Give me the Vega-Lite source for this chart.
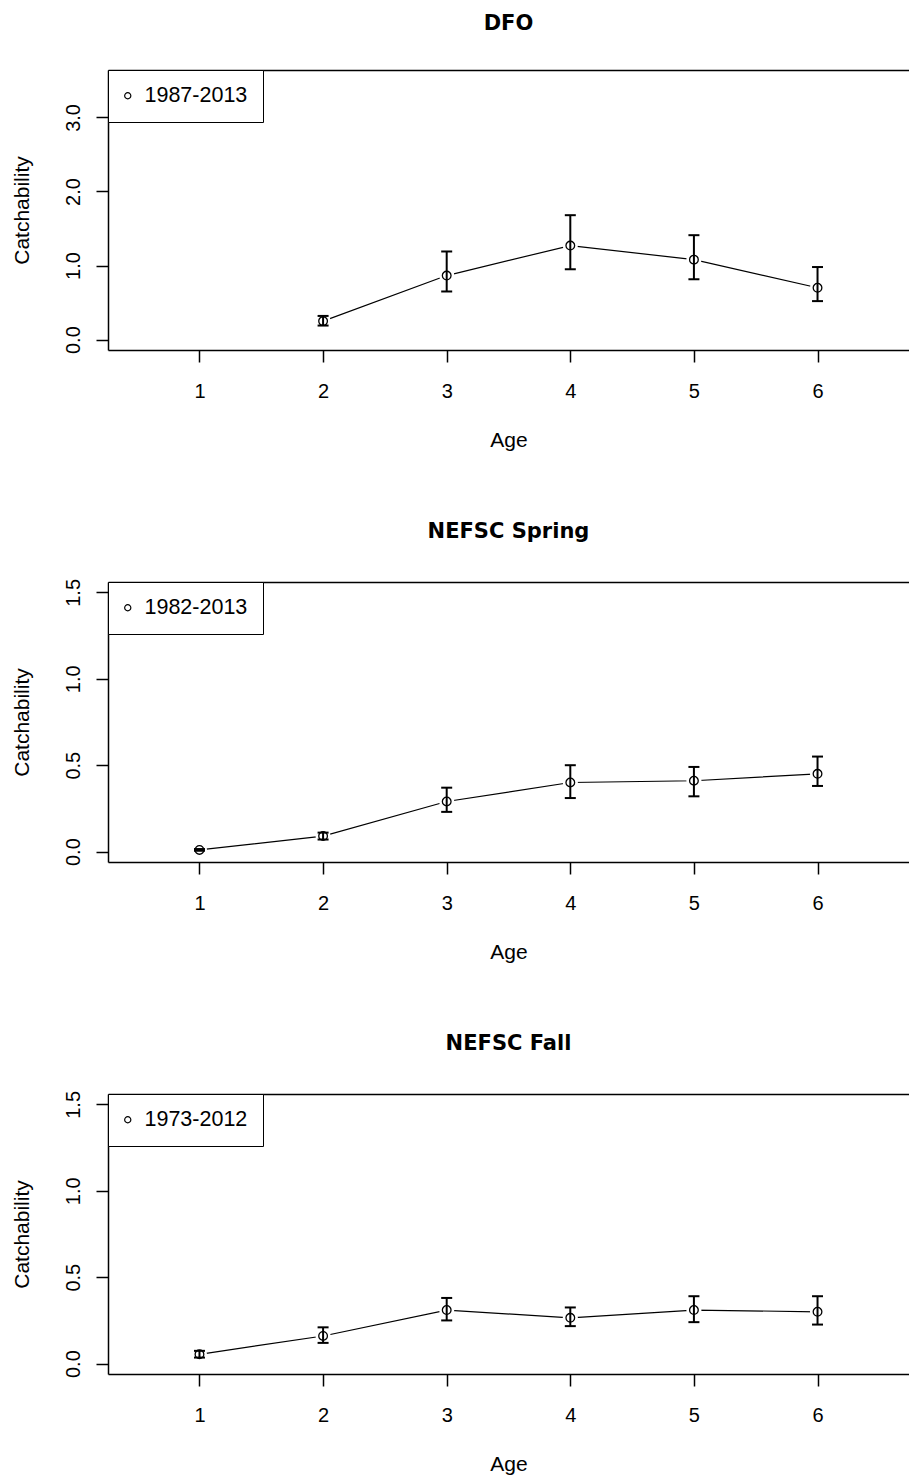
{
  "$schema": "https://vega.github.io/schema/vega-lite/v6.json",
  "padding": {"left": 10, "top": 12, "right": 0, "bottom": 4},
  "background": "white",
  "spacing": 232,
  "bounds": "flush",
  "resolve": {"scale": {"shape": "independent"}, "legend": {"shape": "independent"}},
  "datasets": {
    "q": [
      {"survey": "DFO", "period": "1987-2013", "age": 2, "q": 0.25, "lo": 0.19, "hi": 0.32},
      {"survey": "DFO", "period": "1987-2013", "age": 3, "q": 0.865, "lo": 0.65, "hi": 1.19},
      {"survey": "DFO", "period": "1987-2013", "age": 4, "q": 1.27, "lo": 0.95, "hi": 1.68},
      {"survey": "DFO", "period": "1987-2013", "age": 5, "q": 1.08, "lo": 0.815, "hi": 1.41},
      {"survey": "DFO", "period": "1987-2013", "age": 6, "q": 0.70, "lo": 0.52, "hi": 0.98},
      {"survey": "NEFSC Spring", "period": "1982-2013", "age": 1, "q": 0.01, "lo": 0.005, "hi": 0.015},
      {"survey": "NEFSC Spring", "period": "1982-2013", "age": 2, "q": 0.09, "lo": 0.07, "hi": 0.11},
      {"survey": "NEFSC Spring", "period": "1982-2013", "age": 3, "q": 0.29, "lo": 0.23, "hi": 0.37},
      {"survey": "NEFSC Spring", "period": "1982-2013", "age": 4, "q": 0.40, "lo": 0.31, "hi": 0.50},
      {"survey": "NEFSC Spring", "period": "1982-2013", "age": 5, "q": 0.41, "lo": 0.32, "hi": 0.49},
      {"survey": "NEFSC Spring", "period": "1982-2013", "age": 6, "q": 0.45, "lo": 0.38, "hi": 0.55},
      {"survey": "NEFSC Fall", "period": "1973-2012", "age": 1, "q": 0.054, "lo": 0.035, "hi": 0.074},
      {"survey": "NEFSC Fall", "period": "1973-2012", "age": 2, "q": 0.16, "lo": 0.12, "hi": 0.21},
      {"survey": "NEFSC Fall", "period": "1973-2012", "age": 3, "q": 0.31, "lo": 0.25, "hi": 0.38},
      {"survey": "NEFSC Fall", "period": "1973-2012", "age": 4, "q": 0.265, "lo": 0.217, "hi": 0.325},
      {"survey": "NEFSC Fall", "period": "1973-2012", "age": 5, "q": 0.31, "lo": 0.24, "hi": 0.39},
      {"survey": "NEFSC Fall", "period": "1973-2012", "age": 6, "q": 0.30, "lo": 0.226, "hi": 0.39}
    ]
  },
  "vconcat": [
    {
      "title": "DFO",
      "width": 801,
      "height": 280,
      "data": {"name": "q"},
      "transform": [{"filter": "datum.survey === 'DFO'"}],
      "resolve": {"axis": {"x": "independent"}},
      "layer": [
        {
          "mark": {"type": "line", "color": "black", "strokeWidth": 1.2},
          "encoding": {
            "x": {"field": "age", "type": "quantitative", "scale": {"domain": [0.26, 6.74], "nice": false, "zero": false}, "axis": {"orient": "top", "labels": false, "ticks": false, "title": null}},
            "y": {"field": "q", "type": "quantitative", "title": "Catchability", "scale": {"domain": [-0.14, 3.64], "nice": false, "zero": false}, "axis": {"values": [0, 0.5, 1, 1.5, 2, 2.5, 3, 3.5], "labelExpr": "datum.value % 1 === 0 ? format(datum.value, '.1f') : ''"}}
          }
        },
        {
          "mark": {"type": "point", "filled": true, "color": "white", "opacity": 1, "size": 230},
          "encoding": {
            "x": {"field": "age", "type": "quantitative", "title": "Age", "axis": {"orient": "bottom", "values": [1, 2, 3, 4, 5, 6], "format": "d"}},
            "y": {"field": "q", "type": "quantitative", "title": "Catchability"}
          }
        },
        {
          "mark": {"type": "rule", "color": "black", "strokeWidth": 2},
          "encoding": {
            "x": {"field": "age", "type": "quantitative", "axis": null},
            "y": {"field": "lo", "type": "quantitative", "title": "Catchability"},
            "y2": {"field": "hi"}
          }
        },
        {
          "mark": {"type": "tick", "orient": "horizontal", "color": "black", "size": 11, "thickness": 2, "opacity": 1},
          "encoding": {
            "x": {"field": "age", "type": "quantitative", "axis": null},
            "y": {"field": "lo", "type": "quantitative", "title": "Catchability"}
          }
        },
        {
          "mark": {"type": "tick", "orient": "horizontal", "color": "black", "size": 11, "thickness": 2, "opacity": 1},
          "encoding": {
            "x": {"field": "age", "type": "quantitative", "axis": null},
            "y": {"field": "hi", "type": "quantitative", "title": "Catchability"}
          }
        },
        {
          "mark": {"type": "point", "filled": false, "color": "black", "strokeWidth": 1.3, "size": 75, "opacity": 1},
          "encoding": {
            "x": {"field": "age", "type": "quantitative", "axis": null},
            "y": {"field": "q", "type": "quantitative", "title": "Catchability"},
            "shape": {"field": "period", "type": "nominal", "scale": {"range": ["circle"]}, "legend": {"title": null, "orient": "top-left", "offset": 0}}
          }
        }
      ]
    },
    {
      "title": "NEFSC Spring",
      "width": 801,
      "height": 280,
      "data": {"name": "q"},
      "transform": [{"filter": "datum.survey === 'NEFSC Spring'"}],
      "resolve": {"axis": {"x": "independent"}},
      "layer": [
        {
          "mark": {"type": "line", "color": "black", "strokeWidth": 1.2},
          "encoding": {
            "x": {"field": "age", "type": "quantitative", "scale": {"domain": [0.26, 6.74], "nice": false, "zero": false}, "axis": {"orient": "top", "labels": false, "ticks": false, "title": null}},
            "y": {"field": "q", "type": "quantitative", "title": "Catchability", "scale": {"domain": [-0.06, 1.56], "nice": false, "zero": false}, "axis": {"values": [0, 0.5, 1, 1.5], "format": ".1f"}}
          }
        },
        {
          "mark": {"type": "point", "filled": true, "color": "white", "opacity": 1, "size": 230},
          "encoding": {
            "x": {"field": "age", "type": "quantitative", "title": "Age", "axis": {"orient": "bottom", "values": [1, 2, 3, 4, 5, 6], "format": "d"}},
            "y": {"field": "q", "type": "quantitative", "title": "Catchability"}
          }
        },
        {
          "mark": {"type": "rule", "color": "black", "strokeWidth": 2},
          "encoding": {
            "x": {"field": "age", "type": "quantitative", "axis": null},
            "y": {"field": "lo", "type": "quantitative", "title": "Catchability"},
            "y2": {"field": "hi"}
          }
        },
        {
          "mark": {"type": "tick", "orient": "horizontal", "color": "black", "size": 11, "thickness": 2, "opacity": 1},
          "encoding": {
            "x": {"field": "age", "type": "quantitative", "axis": null},
            "y": {"field": "lo", "type": "quantitative", "title": "Catchability"}
          }
        },
        {
          "mark": {"type": "tick", "orient": "horizontal", "color": "black", "size": 11, "thickness": 2, "opacity": 1},
          "encoding": {
            "x": {"field": "age", "type": "quantitative", "axis": null},
            "y": {"field": "hi", "type": "quantitative", "title": "Catchability"}
          }
        },
        {
          "mark": {"type": "point", "filled": false, "color": "black", "strokeWidth": 1.3, "size": 75, "opacity": 1},
          "encoding": {
            "x": {"field": "age", "type": "quantitative", "axis": null},
            "y": {"field": "q", "type": "quantitative", "title": "Catchability"},
            "shape": {"field": "period", "type": "nominal", "scale": {"range": ["circle"]}, "legend": {"title": null, "orient": "top-left", "offset": 0}}
          }
        }
      ]
    },
    {
      "title": "NEFSC Fall",
      "width": 801,
      "height": 280,
      "data": {"name": "q"},
      "transform": [{"filter": "datum.survey === 'NEFSC Fall'"}],
      "resolve": {"axis": {"x": "independent"}},
      "layer": [
        {
          "mark": {"type": "line", "color": "black", "strokeWidth": 1.2},
          "encoding": {
            "x": {"field": "age", "type": "quantitative", "scale": {"domain": [0.26, 6.74], "nice": false, "zero": false}, "axis": {"orient": "top", "labels": false, "ticks": false, "title": null}},
            "y": {"field": "q", "type": "quantitative", "title": "Catchability", "scale": {"domain": [-0.06, 1.56], "nice": false, "zero": false}, "axis": {"values": [0, 0.5, 1, 1.5], "format": ".1f"}}
          }
        },
        {
          "mark": {"type": "point", "filled": true, "color": "white", "opacity": 1, "size": 230},
          "encoding": {
            "x": {"field": "age", "type": "quantitative", "title": "Age", "axis": {"orient": "bottom", "values": [1, 2, 3, 4, 5, 6], "format": "d"}},
            "y": {"field": "q", "type": "quantitative", "title": "Catchability"}
          }
        },
        {
          "mark": {"type": "rule", "color": "black", "strokeWidth": 2},
          "encoding": {
            "x": {"field": "age", "type": "quantitative", "axis": null},
            "y": {"field": "lo", "type": "quantitative", "title": "Catchability"},
            "y2": {"field": "hi"}
          }
        },
        {
          "mark": {"type": "tick", "orient": "horizontal", "color": "black", "size": 11, "thickness": 2, "opacity": 1},
          "encoding": {
            "x": {"field": "age", "type": "quantitative", "axis": null},
            "y": {"field": "lo", "type": "quantitative", "title": "Catchability"}
          }
        },
        {
          "mark": {"type": "tick", "orient": "horizontal", "color": "black", "size": 11, "thickness": 2, "opacity": 1},
          "encoding": {
            "x": {"field": "age", "type": "quantitative", "axis": null},
            "y": {"field": "hi", "type": "quantitative", "title": "Catchability"}
          }
        },
        {
          "mark": {"type": "point", "filled": false, "color": "black", "strokeWidth": 1.3, "size": 75, "opacity": 1},
          "encoding": {
            "x": {"field": "age", "type": "quantitative", "axis": null},
            "y": {"field": "q", "type": "quantitative", "title": "Catchability"},
            "shape": {"field": "period", "type": "nominal", "scale": {"range": ["circle"]}, "legend": {"title": null, "orient": "top-left", "offset": 0}}
          }
        }
      ]
    }
  ],
  "config": {
    "view": {"stroke": null},
    "font": "Liberation Sans",
    "title": {"font": "DejaVu Sans", "fontSize": 21, "fontWeight": "bold", "color": "black", "offset": 36, "baseline": "alphabetic", "anchor": "middle", "frame": "group"},
    "axis": {
      "domainColor": "black", "domainWidth": 1.5, "tickColor": "black", "tickWidth": 1.5, "tickSize": 12,
      "labelColor": "black", "titleColor": "black", "labelFont": "Liberation Sans", "titleFont": "Liberation Sans",
      "labelFontSize": 20, "titleFontSize": 21, "titleFontWeight": "normal", "grid": false,
      "labelFlush": false, "labelOverlap": false
    },
    "axisY": {"labelAngle": -90, "labelAlign": "center", "labelBaseline": "alphabetic", "labelPadding": 17, "titleX": -80, "titleY": 140, "titleAngle": -90, "titleBaseline": "alphabetic", "titleAlign": "center"},
    "axisX": {"labelAngle": 0, "labelBaseline": "alphabetic", "labelPadding": 35, "titleY": 96.7, "titleBaseline": "alphabetic"},
    "legend": {
      "strokeColor": "black", "fillColor": "white", "padding": 15, "cornerRadius": 0,
      "labelFont": "Liberation Sans", "labelFontSize": 21.5, "labelColor": "black", "labelOffset": 6, "symbolOffset": -6,
      "symbolType": "circle", "symbolSize": 38, "symbolStrokeColor": "black", "symbolStrokeWidth": 1.2, "symbolFillColor": "transparent"
    }
  }
}
